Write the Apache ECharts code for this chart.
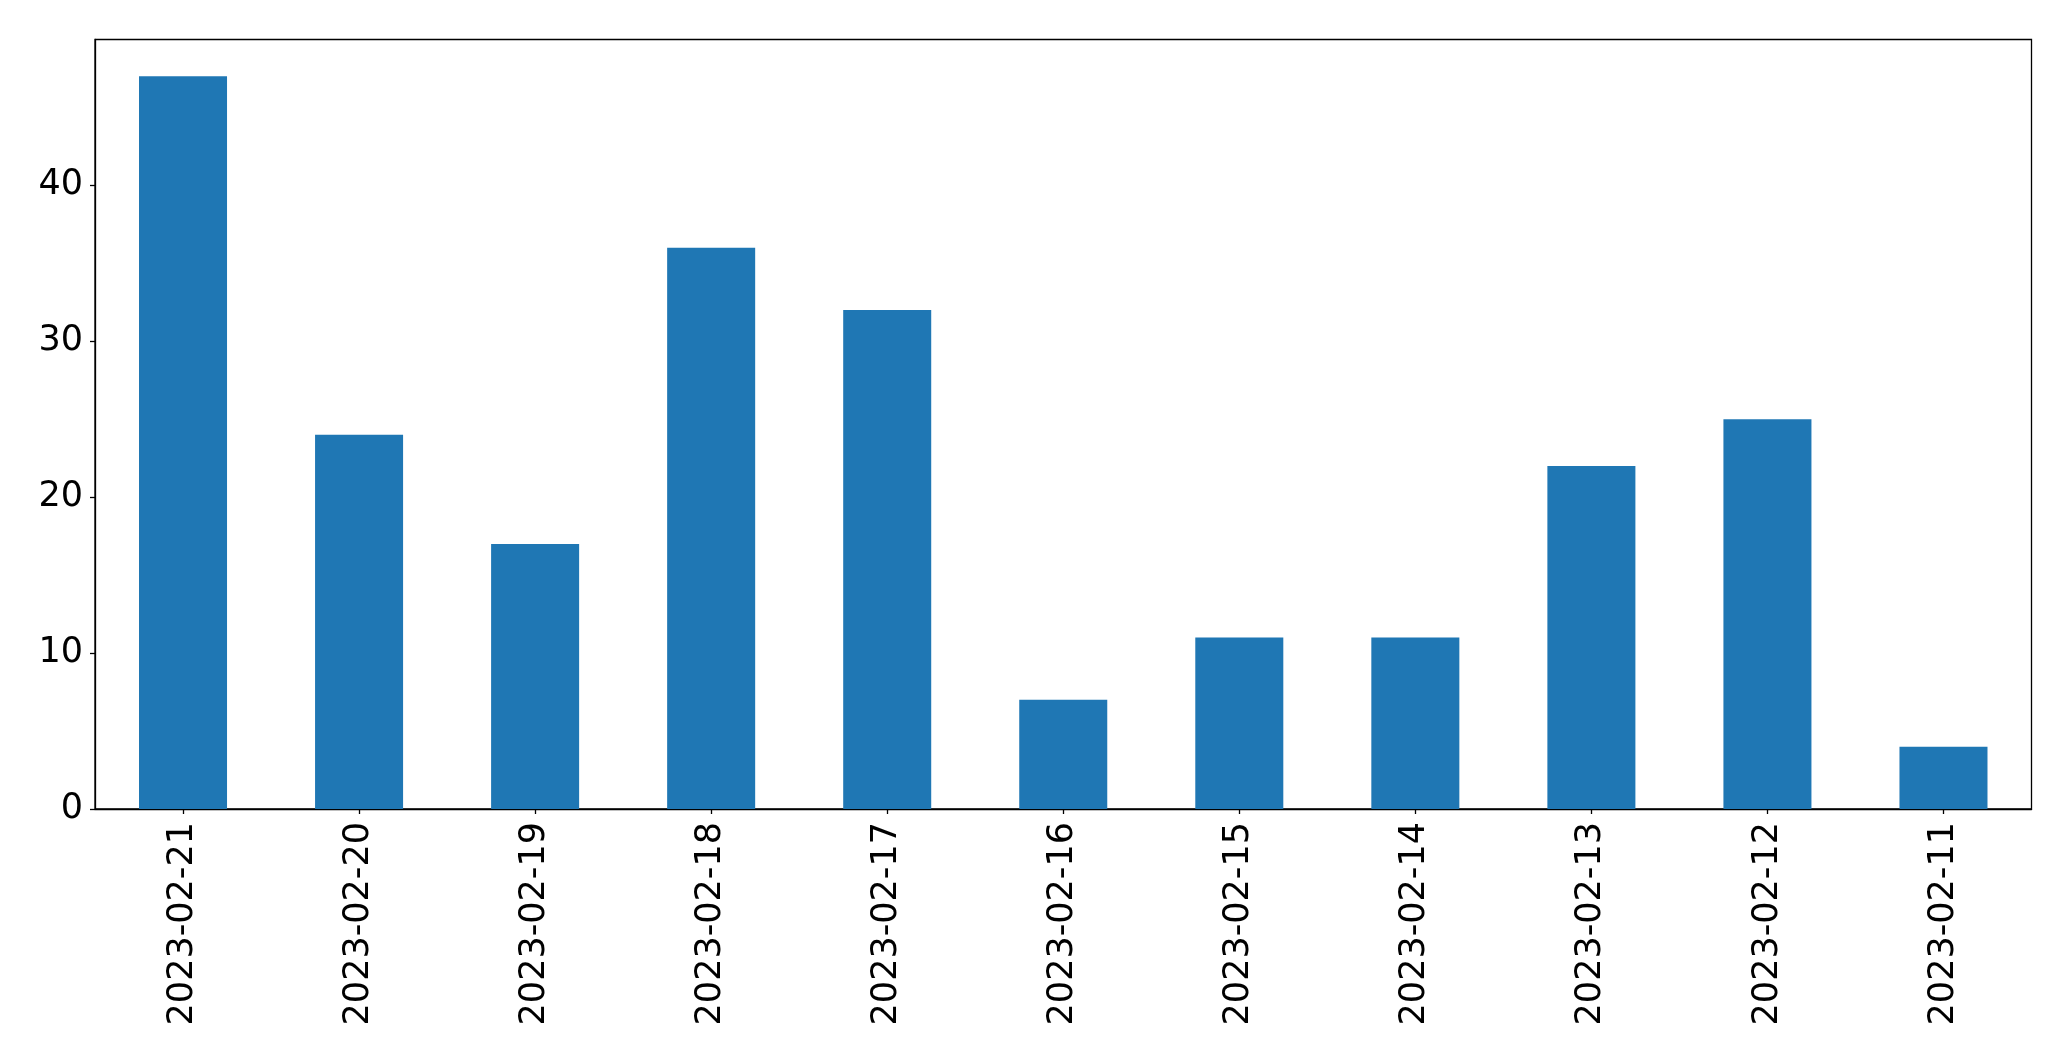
<!DOCTYPE html>
<html>
<head>
<meta charset="utf-8">
<script src="https://cdn.jsdelivr.net/npm/echarts@6/dist/echarts.min.js"></script>
<style>
html,body{margin:0;padding:0;background:#fff;}
#chart{width:2071px;height:1061px;}
</style>
</head>
<body>
<div id="chart"></div>
<script>
const categories = ["2023-02-21","2023-02-20","2023-02-19","2023-02-18","2023-02-17","2023-02-16","2023-02-15","2023-02-14","2023-02-13","2023-02-12","2023-02-11"];
const values = [47, 24, 17, 36, 32, 7, 11, 11, 22, 25, 4];
const yTicks = [0, 10, 20, 30, 40];

const chart = echarts.init(document.getElementById('chart'), null, {renderer: 'canvas'});
const font = 'DejaVu Sans';
chart.setOption({
  animation: false,
  backgroundColor: '#ffffff',
  grid: {
    left: 95, top: 39.5, right: 39.5, bottom: 252,
    show: true, borderColor: '#000', borderWidth: 1.3, backgroundColor: 'transparent'
  },
  xAxis: {
    type: 'category',
    data: categories,
    boundaryGap: true,
    axisLine: {show: true, lineStyle: {color: '#000', width: 1.3}},
    axisTick: {show: true, alignWithLabel: true, length: 5, lineStyle: {color: '#000', width: 1.3}},
    axisLabel: {rotate: 90, margin: 13, color: '#000', fontFamily: font, fontSize: 35, interval: 0}
  },
  yAxis: {
    type: 'value',
    min: 0,
    max: 49.35,
    interval: 10,
    splitLine: {show: false},
    axisLine: {show: true, lineStyle: {color: '#000', width: 1.3}},
    axisTick: {show: true, length: 5, lineStyle: {color: '#000', width: 1.3}},
    axisLabel: {
      margin: 12, color: '#000', fontFamily: font, fontSize: 35,
      showMaxLabel: false,
      formatter: function (v) { return yTicks.indexOf(v) >= 0 ? String(v) : ''; }
    }
  },
  series: [{
    type: 'bar',
    data: values,
    barWidth: '50%',
    itemStyle: {color: '#1f77b4'}
  }]
});
</script>
</body>
</html>
